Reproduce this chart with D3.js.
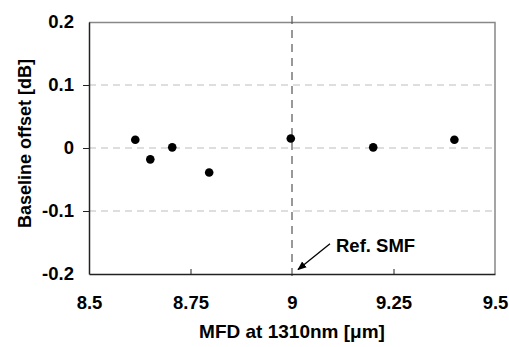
<!DOCTYPE html>
<html>
<head>
<meta charset="utf-8">
<script src="https://cdn.jsdelivr.net/npm/d3@7"></script>
<style>
  body { margin: 0; background: #fff; }
  text { font-family: Arial, "Liberation Sans", sans-serif; font-weight: bold; }
</style>
</head>
<body>
<svg id="chart"></svg>
<script>
// MFD at 1310nm [um] vs baseline offset [dB]
let mfd = [8.614, 8.651, 8.705, 8.796, 8.997, 9.2, 9.4];
let offset = [0.013, -0.018, 0.001, -0.039, 0.015, 0.001, 0.013];
let xTicks = [8.5, 8.75, 9, 9.25, 9.5];
let yTicks = [-0.2, -0.1, 0, 0.1, 0.2];
let refMfd = 9;

let width = 509, height = 347;
let margin = { top: 22, right: 14, bottom: 73, left: 89 };
let w = width - margin.left - margin.right,
  h = height - margin.top - margin.bottom;
let fs = 18.5;

let svg = d3.select("#chart")
  .attr("width", width)
  .attr("height", height);

let g = svg.append("g")
  .attr("transform", "translate(" + margin.left + "," + margin.top + ")");

let x = d3.scaleLinear().domain([8.5, 9.5]).range([0, w]);
let y = d3.scaleLinear().domain([-0.2, 0.2]).range([h, 0]);

// horizontal dashed grid
g.selectAll(".grid")
  .data(yTicks.filter(d => d > -0.2 && d < 0.2))
  .enter().append("line")
  .attr("x1", 0).attr("x2", w)
  .attr("y1", d => y(d)).attr("y2", d => y(d))
  .attr("stroke", "#bdbdbd")
  .attr("stroke-width", 1)
  .attr("stroke-dasharray", "7,5");

// frame top/right
g.append("path")
  .attr("d", "M0,0.5H" + w + "V" + h)
  .attr("fill", "none")
  .attr("stroke", "#888")
  .attr("stroke-width", 1.5);

// reference line
g.append("line")
  .attr("x1", x(refMfd)).attr("x2", x(refMfd))
  .attr("y1", -6).attr("y2", h + 5)
  .attr("stroke", "#555")
  .attr("stroke-width", 1.2)
  .attr("stroke-dasharray", "8,6");

// axes
let xAxis = g.append("g")
  .attr("transform", "translate(0," + h + ")")
  .call(d3.axisBottom(x).tickValues(xTicks).tickSizeInner(-5).tickSizeOuter(0).tickPadding(22)
    .tickFormat(d => String(d)));
let yAxis = g.append("g")
  .call(d3.axisLeft(y).tickValues(yTicks).tickSizeInner(6).tickSizeOuter(0).tickPadding(9)
    .tickFormat(d => d === 0 ? "0" : String(d)));

[xAxis, yAxis].forEach(a => {
  a.select(".domain").attr("stroke", "#222").attr("stroke-width", 1.5);
  a.selectAll(".tick line").attr("stroke", "#222");
  a.selectAll(".tick text").attr("font-size", fs).attr("font-weight", "bold")
    .attr("font-family", "Arial, 'Liberation Sans', sans-serif").attr("fill", "#000");
});
// no tick marks at the ends of x axis or at the top/bottom of y
xAxis.selectAll(".tick line").filter(d => d === 8.5 || d === 9.5 || d === 9).remove();
yAxis.selectAll(".tick line").filter(d => d === 0.2 || d === -0.2).remove();

// points
g.selectAll(".dot")
  .data(mfd)
  .enter().append("circle")
  .attr("cx", d => x(d))
  .attr("cy", (d, i) => y(offset[i]))
  .attr("r", 4.3)
  .attr("fill", "#000");

// annotation
svg.append("defs").append("marker")
  .attr("id", "arr")
  .attr("viewBox", "0 0 10 10")
  .attr("refX", 9).attr("refY", 5)
  .attr("markerWidth", 7).attr("markerHeight", 7)
  .attr("orient", "auto")
  .append("path").attr("d", "M0,1L10,5L0,9z").attr("fill", "#000");

g.append("line")
  .attr("x1", x(refMfd) + 38).attr("y1", y(-0.152))
  .attr("x2", x(refMfd) + 6).attr("y2", y(-0.193))
  .attr("stroke", "#000")
  .attr("stroke-width", 1.3)
  .attr("marker-end", "url(#arr)");

g.append("text")
  .attr("x", x(refMfd) + 44)
  .attr("y", y(-0.165))
  .attr("font-size", fs)
  .text("Ref. SMF");

// axis titles
svg.append("text")
  .attr("x", margin.left + w / 2)
  .attr("y", 338)
  .attr("text-anchor", "middle")
  .attr("font-size", 19)
  .text("MFD at 1310nm [\u03bcm]");

svg.append("text")
  .attr("transform", "translate(31," + 143.5 + ") rotate(-90)")
  .attr("text-anchor", "middle")
  .attr("font-size", 18)
  .text("Baseline offset [dB]");
</script>
</body>
</html>
